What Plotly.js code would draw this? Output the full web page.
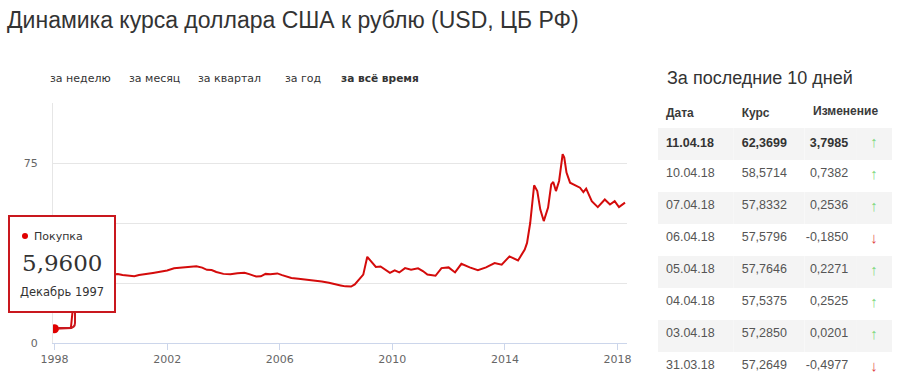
<!DOCTYPE html>
<html><head><meta charset="utf-8">
<script src="https://cdn.plot.ly/plotly-3.0.1.min.js"></script>
<style>html,body{margin:0;padding:0;background:#fff;} #chart{width:902px;height:383px;}</style>
</head><body><div id="chart"></div>
<script>
// ---- data ----
const historyDates = [
 '1997-12-31','1998-02-01','1998-04-01','1998-06-01','1998-07-01','1998-08-01','1998-09-01','1998-10-01','1998-11-01','1998-12-01',
 '1999-01-01','1999-03-01','1999-06-01','1999-09-01','1999-12-01','2000-02-01','2000-04-01','2000-06-01','2000-09-01','2000-11-01',
 '2001-01-01','2001-04-01','2001-07-01','2001-10-01','2002-01-01','2002-04-01','2002-07-01','2002-10-01','2003-01-15','2003-04-01',
 '2003-06-01','2003-08-01','2003-10-01','2004-01-01','2004-04-01','2004-07-01','2004-10-01','2004-12-01','2005-03-01','2005-05-01',
 '2005-07-01','2005-09-01','2005-12-01','2006-02-01','2006-04-01','2006-06-01','2006-09-01','2007-01-01','2007-04-01','2007-07-01',
 '2007-10-01','2008-01-01','2008-03-01','2008-05-01','2008-07-15','2008-09-01','2008-11-01','2008-12-20','2009-02-10','2009-04-01',
 '2009-06-01','2009-08-01','2009-10-01','2009-12-01','2010-02-01','2010-04-01','2010-06-15','2010-09-01','2010-12-01','2011-02-01',
 '2011-04-01','2011-07-15','2011-10-01','2012-01-01','2012-03-25','2012-06-15','2012-10-01','2013-01-15','2013-05-01','2013-08-20',
 '2013-11-20','2014-03-01','2014-06-20','2014-09-15','2014-10-15','2014-11-25','2015-01-15','2015-02-25','2015-04-05','2015-05-20',
 '2015-07-15','2015-08-25','2015-09-20','2015-10-25','2015-12-05','2016-01-20','2016-02-10','2016-03-10','2016-04-25','2016-07-15',
 '2016-09-01','2016-10-15','2016-11-20','2017-02-01','2017-04-20','2017-07-20','2017-09-25','2017-11-25','2018-01-20','2018-04-08'
];
const historyRates = [
 5.96,6.03,6.10,6.17,6.22,6.24,16.06,15.92,17.88,20.65,
 22.60,24.18,24.44,25.08,26.80,28.60,28.70,28.30,27.90,27.85,
 28.30,28.90,29.20,29.70,30.20,31.10,31.40,31.70,32.00,31.40,
 30.50,30.40,29.60,28.80,28.60,29.10,29.30,28.70,27.70,27.80,
 28.80,28.60,29.00,28.30,27.60,27.10,26.80,26.40,26.00,25.60,
 25.10,24.60,24.00,23.60,23.50,24.40,26.90,28.50,35.90,34.20,
 31.70,31.90,30.50,29.20,30.30,29.40,31.20,30.50,31.10,30.00,
 28.50,28.00,31.20,31.50,29.40,33.00,31.50,30.30,31.50,33.30,
 32.60,36.10,34.40,38.90,41.70,50.00,65.70,63.30,55.60,50.80,
 56.40,66.10,67.10,63.30,67.50,78.70,77.30,71.00,66.80,65.40,
 64.70,62.90,64.30,59.10,56.60,59.80,57.70,59.10,56.60,58.50
];
const yTickValues = [0, 25, 50, 75, 100];
const yTickLabels = ['0', '', '', '75', ''];   // 25 and 50 are hidden under the tooltip in the reference
const periodButtons = ['за неделю', 'за месяц', 'за квартал', 'за год', 'за всё время'];
const tableDates   = ['11.04.18','10.04.18','07.04.18','06.04.18','05.04.18','04.04.18','03.04.18','31.03.18'];
const tableRates   = [62.3699, 58.5714, 57.8332, 57.5796, 57.7646, 57.5375, 57.2850, 57.2649];
const tableChanges = [3.7985, 0.7382, 0.2536, -0.1850, 0.2271, 0.2525, 0.0201, -0.4977];
const tableHeader  = ['Дата', 'Курс', 'Изменение'];
const monthNames = ['Январь','Февраль','Март','Апрель','Май','Июнь','Июль','Август','Сентябрь','Октябрь','Ноябрь','Декабрь'];

// ---- helpers ----
const W = 902, H = 383;
const px = x => x / W, py = y => 1 - y / H;
const fmt = v => v.toFixed(4).replace('.', ',');
const RED = '#d40b0b', BOX = '#c9181e';
const SANS = 'DejaVu Sans, Verdana, sans-serif';
const ARIAL = 'Liberation Sans, Arial, sans-serif';

const lineTrace = {
  type: 'scatter', mode: 'lines', x: historyDates, y: historyRates,
  line: {color: RED, width: 2}, hoverinfo: 'skip', showlegend: false
};
const pointTrace = {
  type: 'scatter', mode: 'markers', x: [historyDates[0]], y: [historyRates[0]],
  marker: {color: '#e00000', size: 9}, hoverinfo: 'skip', showlegend: false
};

const rowFill = tableDates.map((d, i) => i % 2 === 0 ? '#f4f4f4' : '#ffffff');
const rowColor = tableDates.map((d, i) => i === 0 ? '#333333' : '#555555');
const arrowColor = tableChanges.map(v => v >= 0 ? '#7fd87f' : '#e04848');
const bold = (s, i) => i === 0 ? '<b>' + s + '</b>' : s;
const tableTrace = {
  type: 'table',
  domain: {x: [px(658), px(893)], y: [0, py(98)]},
  columnwidth: [76, 71, 52, 36],
  header: {
    values: ['<b>' + tableHeader[0] + '</b>', '<b>' + tableHeader[1] + '</b>', '', ''], align: 'left', height: 29,
    fill: {color: '#ffffff'}, line: {color: 'rgba(0,0,0,0)', width: 0},
    font: {family: ARIAL, size: 12, color: '#3a3a3a'}
  },
  cells: {
    values: [
      tableDates.map(bold),
      tableRates.map((v, i) => bold(fmt(v), i)),
      tableChanges.map((v, i) => bold(fmt(v), i)),
      tableChanges.map(v => v >= 0 ? '↑' : '↓')
    ],
    align: ['left', 'left', 'right', 'center'], height: 32,
    fill: {color: [rowFill, rowFill, rowFill, rowFill]},
    line: {color: 'rgba(0,0,0,0)', width: 0},
    font: {family: [ARIAL, ARIAL, ARIAL, ARIAL], size: [12.5, 12.5, 12.5, 15],
           color: [rowColor, rowColor, rowColor, arrowColor]}
  }
};

// annotations
const ann = [];
const buttonX = [48, 127, 196, 283, 339];
periodButtons.forEach((b, i) => ann.push({
  xref: 'paper', yref: 'paper', x: px(buttonX[i]), y: py(78), xanchor: 'left', yanchor: 'middle',
  text: i === periodButtons.length - 1 ? '<b>' + b + '</b>' : b, showarrow: false,
  font: {family: SANS, size: i === periodButtons.length - 1 ? 10.6 : 11, color: '#333'}
}));
ann.push({xref: 'paper', yref: 'paper', x: px(665), y: py(78), xanchor: 'left', yanchor: 'middle',
  text: 'За последние 10 дней', showarrow: false, font: {family: ARIAL, size: 18, color: '#333'}});
// header of the change column (wider than its column, so drawn over the table header)
ann.push({xref: 'paper', yref: 'paper', x: px(811), y: py(111), xanchor: 'left', yanchor: 'middle',
  text: '<b>' + tableHeader[2] + '</b>', showarrow: false, font: {family: ARIAL, size: 12, color: '#3a3a3a'}});
// tooltip contents
const d0 = new Date(historyDates[0] + 'T00:00:00');
ann.push({xref: 'paper', yref: 'paper', x: px(32), y: py(236), xanchor: 'left', yanchor: 'middle',
  text: 'Покупка', showarrow: false, font: {family: SANS, size: 11, color: '#333'}});
ann.push({xref: 'paper', yref: 'paper', x: px(20), y: py(263), xanchor: 'left', yanchor: 'middle',
  text: fmt(historyRates[0]), showarrow: false, font: {family: 'DejaVu Serif, Georgia, serif', size: 23, color: '#333'}});
ann.push({xref: 'paper', yref: 'paper', x: px(18), y: py(292), xanchor: 'left', yanchor: 'middle',
  text: monthNames[d0.getMonth()] + ' ' + d0.getFullYear(), showarrow: false, font: {family: SANS, size: 11.5, color: '#333'}});

const shapes = [
  {type: 'rect', xref: 'paper', yref: 'paper', layer: 'above',
   x0: px(9), x1: px(115), y0: py(312), y1: py(216), fillcolor: '#ffffff', line: {color: BOX, width: 2}},
  {type: 'path', xref: 'paper', yref: 'paper', layer: 'above',
   path: `M ${px(75)},${py(313)} L ${px(75)},${py(323)} Q ${px(75)},${py(328)} ${px(69)},${py(328)} L ${px(58)},${py(328)}`,
   line: {color: BOX, width: 2}},
  {type: 'circle', xref: 'paper', yref: 'paper', layer: 'above',
   x0: px(22), x1: px(28), y0: py(239), y1: py(233), fillcolor: '#e00000', line: {width: 0}}
];

const layout = {
  width: W, height: H, margin: {l: 0, r: 0, t: 0, b: 0},
  paper_bgcolor: '#fff', plot_bgcolor: '#fff', showlegend: false, hovermode: false,
  font: {family: SANS, size: 11, color: '#666'},
  title: {text: 'Динамика курса доллара США к рублю (USD, ЦБ РФ)', x: px(7), xanchor: 'left',
          y: py(20), yanchor: 'middle', yref: 'container', xref: 'container',
          font: {family: ARIAL, size: 23, color: '#333'}},
  xaxis: {type: 'date', domain: [px(53), px(627)], range: ['1997-12-12', '2018-05-04'],
          tick0: '1998-01-01', dtick: 'M48', tickformat: '%Y', showgrid: false, zeroline: false,
          showline: true, linecolor: '#ccd6eb', linewidth: 1, ticks: 'outside', ticklen: 6, tickcolor: '#ccd6eb',
          tickfont: {family: SANS, size: 11, color: '#666'}, fixedrange: true},
  yaxis: {domain: [1 - 343 / H, 1 - 103 / H], range: [0, 100], tickvals: yTickValues, ticktext: yTickLabels,
          showgrid: true, gridcolor: '#e6e6e6', zeroline: false, showline: true, linecolor: '#e6e6e6',
          ticks: '', ticklabelstandoff: 12, tickfont: {family: SANS, size: 11, color: '#666'}, fixedrange: true},
  annotations: ann, shapes: shapes
};
Plotly.newPlot('chart', [lineTrace, pointTrace, tableTrace], layout, {displayModeBar: false, staticPlot: true});
</script></body></html>
